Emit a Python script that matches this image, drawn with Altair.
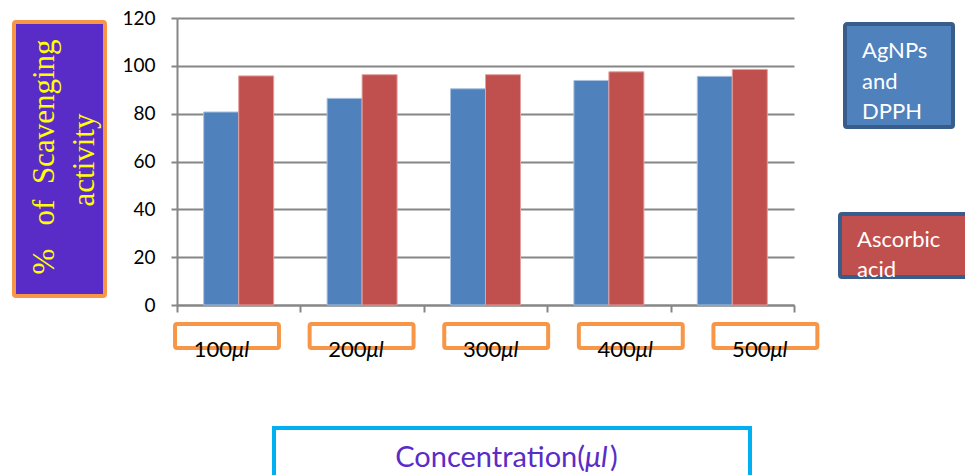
import altair as alt
import pandas as pd

# ---- data ----
concentrations = ["100", "200", "300", "400", "500"]
unit_label = "μl"
series_names = ["AgNPs and DPPH", "Ascorbic acid"]
agnps_dpph = [80.7, 86.4, 90.4, 93.9, 95.6]
ascorbic_acid = [95.8, 96.3, 96.3, 97.5, 98.5]
y_ticks = [0, 20, 40, 60, 80, 100, 120]
y_title_lines = ["%\u00a0\u00a0\u00a0of\u00a0\u00a0Scavenging", "activity"]
legend_texts = ["AgNPs\nand\nDPPH", "Ascorbic\nacid"]
x_title_parts = ["Concentration(", "μl", ")"]

# ---- styles ----
BLUE = "#4f81bd"
RED = "#c0504d"
GRAY = "#868686"
ORANGE = "#f79646"
PURPLE = "#5a2cc7"
LEG_BORDER = "#385d8a"
SANS = "Lato"

rows = []
for c, a, b in zip(concentrations, agnps_dpph, ascorbic_acid):
    rows.append({"conc": c, "series": series_names[0], "value": a})
    rows.append({"conc": c, "series": series_names[1], "value": b})
df = pd.DataFrame(rows)

bars = alt.Chart(df).mark_bar(strokeWidth=1).encode(
    x=alt.X(
        "conc:N",
        sort=concentrations,
        scale=alt.Scale(paddingInner=0, paddingOuter=0),
        axis=alt.Axis(
            labels=False, title=None, tickBand="extent", tickSize=7,
            tickWidth=2, tickColor=GRAY, domainColor=GRAY, domainWidth=2,
            grid=False,
        ),
    ),
    xOffset=alt.XOffset(
        "series:N", sort=series_names,
        scale=alt.Scale(paddingInner=0, paddingOuter=0.763),
    ),
    y=alt.Y(
        "value:Q",
        scale=alt.Scale(domain=[0, 120], nice=False),
        axis=alt.Axis(
            values=y_ticks, title=None, tickSize=6, tickWidth=2,
            tickColor=GRAY, domainColor=GRAY, domainWidth=2,
            gridColor=GRAY, gridWidth=2, labelFont=SANS, labelFontSize=19,
            labelColor="black", labelPadding=16,
        ),
    ),
    color=alt.Color("series:N", scale=alt.Scale(domain=series_names, range=[BLUE, RED]), legend=None),
    stroke=alt.Stroke("series:N", scale=alt.Scale(domain=series_names, range=["#a9c1e0", "#e3a09e"]), legend=None),
)

# ---- x category labels in orange boxes ----
lab_df = pd.DataFrame({"idx": list(range(len(concentrations))), "num": concentrations,
                       "unit": [unit_label] * len(concentrations)})
lab_scale = alt.Scale(domain=[0, 4], range=[50, 588.4], nice=False, zero=False)

lab_box = alt.Chart(lab_df).transform_calculate(
    xa="datum.idx - 0.386", xb="datum.idx + 0.386"
).mark_rect(fillOpacity=0, stroke=ORANGE, strokeWidth=4, cornerRadius=2).encode(
    x=alt.X("xa:Q", scale=lab_scale, axis=None),
    x2="xb:Q",
    y=alt.value(306),
    y2=alt.value(330),
)
lab_num = alt.Chart(lab_df).mark_text(
    align="right", baseline="alphabetic", dx=5, font=SANS, fontSize=22, color="black"
).encode(x=alt.X("idx:Q", scale=lab_scale, axis=None), y=alt.value(339), text="num:N")
lab_unit = alt.Chart(lab_df).mark_text(
    align="left", baseline="alphabetic", dx=5, font=SANS, fontSize=22, fontStyle="italic", color="black"
).encode(x=alt.X("idx:Q", scale=lab_scale, axis=None), y=alt.value(339), text="unit:N")

one = pd.DataFrame({"k": [0]})

# ---- y title box ----
ytitle_box = alt.Chart(one).mark_rect(fill=PURPLE, stroke=ORANGE, strokeWidth=4, cornerRadius=2).encode(
    x=alt.value(-163), x2=alt.value(-72), y=alt.value(4), y2=alt.value(278)
)
ytitle_1 = alt.Chart(pd.DataFrame({"t": [y_title_lines[0]]})).mark_text(
    angle=270, align="center", baseline="alphabetic", font="Liberation Serif",
    fontSize=31, color="#ffff00"
).encode(x=alt.value(-123), y=alt.value(139), text="t:N")
ytitle_2 = alt.Chart(pd.DataFrame({"t": [y_title_lines[1]]})).mark_text(
    angle=270, align="center", baseline="alphabetic", font="Liberation Serif",
    fontSize=31, color="#ffff00"
).encode(x=alt.value(-83), y=alt.value(142), text="t:N")

# ---- legend boxes ----
leg1_box = alt.Chart(one).mark_rect(fill=BLUE, stroke=LEG_BORDER, strokeWidth=4, cornerRadius=2).encode(
    x=alt.value(668), x2=alt.value(776), y=alt.value(6), y2=alt.value(109)
)
leg1_txt = alt.Chart(pd.DataFrame({"t": [legend_texts[0]]})).mark_text(
    align="left", baseline="alphabetic", font=SANS, fontSize=22, color="white",
    lineBreak="\n", lineHeight=30.5
).encode(x=alt.value(685), y=alt.value(40), text="t:N")
leg2_box = alt.Chart(one).mark_rect(fill=RED, stroke=LEG_BORDER, strokeWidth=4, cornerRadius=2).encode(
    x=alt.value(663), x2=alt.value(792), y=alt.value(196), y2=alt.value(259)
)
leg2_txt = alt.Chart(pd.DataFrame({"t": [legend_texts[1]]})).mark_text(
    align="left", baseline="alphabetic", font=SANS, fontSize=22, color="white",
    lineBreak="\n", lineHeight=30
).encode(x=alt.value(680), y=alt.value(229), text="t:N")

# ---- x title box ----
xtitle_box = alt.Chart(one).mark_rect(fill="white", stroke="#00b0f0", strokeWidth=4).encode(
    x=alt.value(97), x2=alt.value(573), y=alt.value(410), y2=alt.value(480)
)
xt1 = alt.Chart(pd.DataFrame({"t": [x_title_parts[0]]})).mark_text(
    align="right", baseline="alphabetic", font=SANS, fontSize=29, color=PURPLE
).encode(x=alt.value(408), y=alt.value(449), text="t:N")
xt2 = alt.Chart(pd.DataFrame({"t": [x_title_parts[1]]})).mark_text(
    align="left", baseline="alphabetic", font=SANS, fontSize=29, fontStyle="italic", color=PURPLE
).encode(x=alt.value(408), y=alt.value(449), text="t:N")
xt3 = alt.Chart(pd.DataFrame({"t": [x_title_parts[2]]})).mark_text(
    align="left", baseline="alphabetic", font=SANS, fontSize=29, color=PURPLE
).encode(x=alt.value(433), y=alt.value(449), text="t:N")

chart = alt.layer(
    bars, lab_box, lab_num, lab_unit,
    ytitle_box, ytitle_1, ytitle_2,
    leg1_box, leg1_txt, leg2_box, leg2_txt,
    xtitle_box, xt1, xt2, xt3,
).resolve_scale(x="independent").properties(
    width=617, height=287,
    padding={"left": 169, "top": 10, "right": 171, "bottom": 170},
    autosize=alt.AutoSizeParams(type="none"),
    background="white",
).configure_view(stroke=None)

chart.save("out.html", embed_options={"renderer": "svg", "actions": False})
